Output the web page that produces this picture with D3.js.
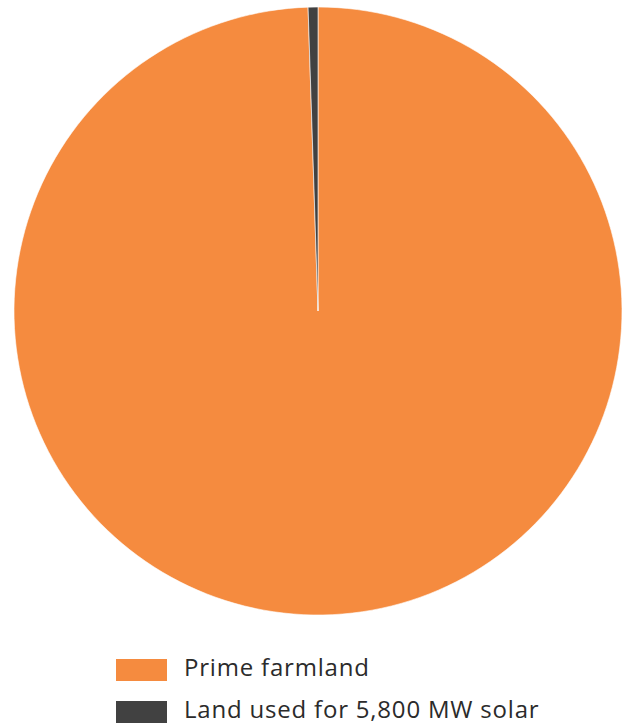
<!DOCTYPE html>
<html><head><meta charset="utf-8">
<script src="https://cdn.jsdelivr.net/npm/d3@7"></script>
<style>body{margin:0;background:#fff}</style>
</head><body>
<script>
const categories = ["Prime farmland", "Land used for 5,800 MW solar"];
const values = [99.48, 0.52];
const colors = ["#F58B3F", "#414141"];

const W = 626, H = 726;
const svg = d3.select("body").append("svg").attr("width", W).attr("height", H);
const cx = 318, cy = 311, r = 304;
const pie = d3.pie().sort(null)(values);
const arc = d3.arc().innerRadius(0).outerRadius(r);
svg.append("g").attr("transform", `translate(${cx},${cy})`)
  .selectAll("path").data(pie).join("path")
  .attr("d", arc).attr("fill", (d,i)=>colors[i])
  .attr("stroke", "#fff").attr("stroke-width", 0.6);

const lg = svg.append("g");
categories.forEach((c,i)=>{
  const y = 659 + i*42;
  lg.append("rect").attr("x",116).attr("y",y).attr("width",51).attr("height",22).attr("fill",colors[i]);
  lg.append("text").attr("x",184).attr("y",y+17).text(c)
    .attr("font-family","'Open Sans', sans-serif").attr("font-size",24)
    .attr("letter-spacing",0.8).attr("fill","#2b2b2b");
});
</script>
</body></html>
